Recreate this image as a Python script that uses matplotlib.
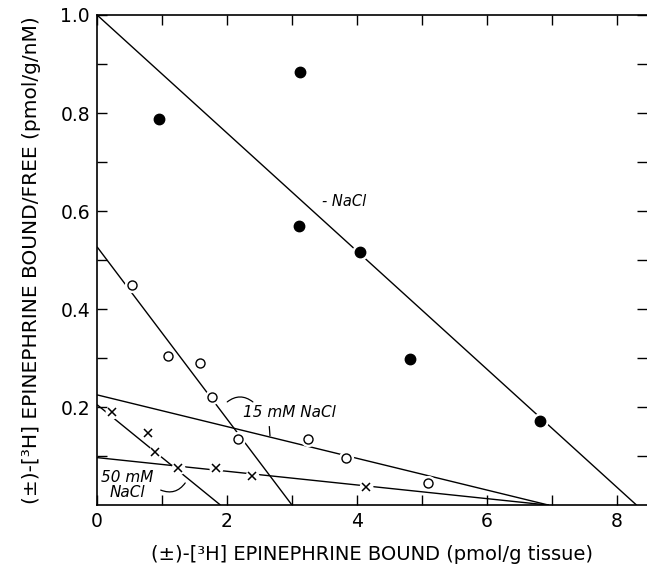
import numpy as np
import matplotlib.pyplot as plt
from matplotlib.patches import FancyArrowPatch

# Scatchard data, (+/-)-[3H]epinephrine binding
# no NaCl
bound_ctrl = [0.95, 3.12, 3.11, 4.05, 4.82, 6.82]
ratio_ctrl = [0.788, 0.884, 0.570, 0.516, 0.298, 0.171]
fit_ctrl = [(0.0, 1.0), (8.3, 0.0)]

# 15 mM NaCl
bound_15 = [0.54, 1.09, 1.58, 1.77, 2.17, 3.25, 3.83, 5.09]
ratio_15 = [0.449, 0.304, 0.290, 0.220, 0.135, 0.135, 0.096, 0.045]
fit_15_high = [(0.0, 0.527), (3.0, 0.0)]
fit_15_low = [(0.0, 0.225), (6.95, 0.0)]

# 50 mM NaCl
bound_50 = [0.23, 0.78, 0.89, 1.24, 1.83, 2.38, 4.14]
ratio_50 = [0.190, 0.147, 0.108, 0.076, 0.075, 0.060, 0.037]
fit_50_high = [(0.0, 0.205), (1.9, 0.0)]
fit_50_low = [(0.0, 0.097), (6.95, 0.0)]

x_major = [0, 2, 4, 6, 8]
x_minor = [1, 3, 5, 7]
y_major = [0.2, 0.4, 0.6, 0.8, 1.0]
y_minor = [0.1, 0.3, 0.5, 0.7, 0.9]

fig = plt.figure(figsize=(6.47, 5.76), dpi=100)
ax = fig.add_axes([0.150, 0.123, 0.850, 0.851])

for seg in [fit_ctrl, fit_15_high, fit_15_low, fit_50_high, fit_50_low]:
    xs, ys = zip(*seg)
    ax.plot(xs, ys, color='black', lw=1.0, zorder=2, solid_capstyle='butt')

# white halos break the fitted lines around each point
for xs, ys, s in [(bound_ctrl, ratio_ctrl, 12), (bound_15, ratio_15, 11), (bound_50, ratio_50, 10)]:
    ax.plot(xs, ys, 'o', ms=s, mfc='white', mec='none', zorder=3)

ax.plot(bound_ctrl, ratio_ctrl, 'o', ms=7.5, mfc='black', mec='black', zorder=4)
ax.plot(bound_15, ratio_15, 'o', ms=6.5, mfc='white', mec='black', mew=1.0, zorder=4)
ax.plot(bound_50, ratio_50, 'x', ms=5.5, mec='black', mew=1.1, zorder=4)

# annotations
ax.text(3.46, 0.62, '- NaCl', style='italic', fontsize=10.5, va='center', ha='left')
ax.text(2.25, 0.188, '15 mM NaCl', style='italic', fontsize=11, va='center', ha='left')
ax.text(0.46, 0.042, '50 mM\nNaCl', style='italic', fontsize=11, va='center', ha='center',
        linespacing=1.0)

for p0, p1, rad in [((1.97, 0.207), (2.43, 0.207), -0.45),
                    ((0.94, 0.033), (1.38, 0.050), 0.45)]:
    ax.add_patch(FancyArrowPatch(p0, p1, arrowstyle='-', connectionstyle=f'arc3,rad={rad}',
                                 color='black', lw=0.9, zorder=5))
ax.plot([2.65, 2.66], [0.160, 0.142], color='black', lw=0.9)

ax.set_xlim(0, 8.46)
ax.set_ylim(0, 1.0)
ax.set_xticks(x_major)
ax.set_xticks(x_minor, minor=True)
ax.set_yticks(y_major)
ax.set_yticklabels([f'{v:.1f}' for v in y_major])
ax.set_yticks(y_minor, minor=True)
ax.tick_params(which='both', direction='in', top=True, right=True, length=7, width=1.0,
               labelsize=13.5, pad=5)
ax.tick_params(axis='y', which='both', right=True, labelright=False)
ax.spines['right'].set_visible(False)
for s in ['left', 'bottom', 'top']:
    ax.spines[s].set_linewidth(1.2)

ax.set_xlabel('(±)-[³H] EPINEPHRINE BOUND (pmol/g tissue)', fontsize=14, labelpad=10)
ax.set_ylabel('(±)-[³H] EPINEPHRINE BOUND/FREE (pmol/g/nM)', fontsize=14.5, labelpad=14)

fig.savefig('out.png', dpi=100)
